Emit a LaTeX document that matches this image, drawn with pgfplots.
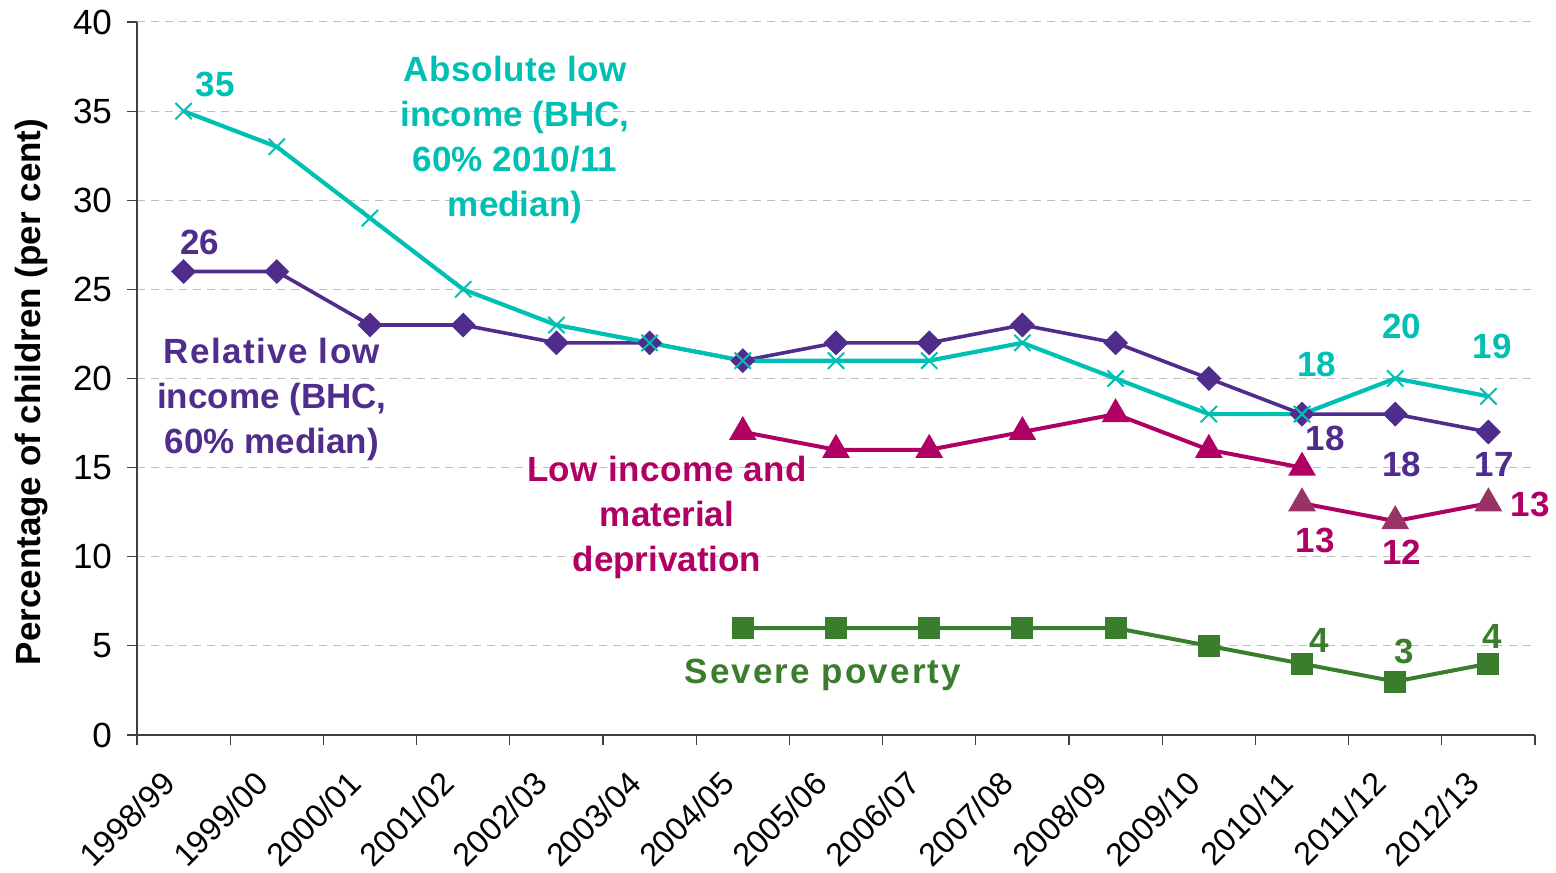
\documentclass[border=0pt]{standalone}
\usepackage{fontspec}
\setmainfont{Liberation Sans}
\usepackage{pgfplots}
\pgfplotsset{compat=1.18}

\definecolor{abscol}{RGB}{0,191,179}
\definecolor{relcol}{RGB}{80,45,140}
\definecolor{matcol}{RGB}{176,0,100}
\definecolor{matcoltwo}{RGB}{153,51,102}
\definecolor{sevcol}{RGB}{58,125,44}

\newcommand{\lab}{\fontsize{17.5bp}{22.5bp}\selectfont\bfseries}

\begin{document}
\begin{tikzpicture}
\begin{axis}[
    scale only axis,
    width=699bp, height=356.5bp,
    xmin=-0.5, xmax=14.5, ymin=0, ymax=40,
    axis x line*=bottom, axis y line*=left,
    axis line style={-, black!75, line width=0.6bp},
    xtick={-0.5,0.5,...,14.5},
    xticklabels={},
    extra x ticks={0,1,2,3,4,5,6,7,8,9,10,11,12,13,14},
    extra x tick labels={1998/99,1999/00,2000/01,2001/02,2002/03,2003/04,2004/05,2005/06,2006/07,2007/08,2008/09,2009/10,2010/11,2011/12,2012/13},
    extra x tick style={major tick length=0pt, tick style={draw=none},
        xticklabel style={font=\fontsize{16.2bp}{19bp}\selectfont, xshift=-5bp, yshift=-19bp, rotate=45, anchor=east}},
    ytick={0,5,...,40},
    tick align=outside,
    major tick length=5bp,
    tick style={black!75, line width=0.6bp},
    ymajorgrids,
    major grid style={dash pattern=on 4bp off 3bp, black!25, line width=0.5bp},
    ticklabel style={font=\fontsize{17.5bp}{20bp}\selectfont},
    yticklabel style={xshift=-4bp},
    /pgf/number format/assume math mode=true,
    ylabel={Percentage of children (per cent)},
    every axis y label/.style={at={(axis description cs:-0.0751,0.481)}, rotate=90, anchor=center, font=\lab},
    clip=false,
]
% severe poverty
\addplot[sevcol, line width=2bp, mark=square*, mark size=4.5bp, mark options={solid}]
    coordinates {(6,6)(7,6)(8,6)(9,6)(10,6)(11,5)(12,4)(13,3)(14,4)};
% low income and material deprivation (old and new series)
\addplot[matcol, line width=2bp, mark=triangle*, mark size=6bp, mark options={solid}]
    coordinates {(6,17)(7,16)(8,16)(9,17)(10,18)(11,16)(12,15)};
\addplot[matcol, line width=2bp, mark=triangle*, mark size=6bp, mark options={solid, fill=matcoltwo, draw=matcoltwo}]
    coordinates {(12,13)(13,12)(14,13)};
% relative low income
\addplot[relcol, line width=1.8bp, mark=square*, mark size=3.5bp, mark options={solid, rotate=45}]
    coordinates {(0,26)(1,26)(2,23)(3,23)(4,22)(5,22)(6,21)(7,22)(8,22)(9,23)(10,22)(11,20)(12,18)(13,18)(14,17)};
% absolute low income
\addplot[abscol, line width=2.1bp, mark=x, mark size=5.75bp, mark options={solid, line width=1bp}]
    coordinates {(0,35)(1,33)(2,29)(3,25)(4,23)(5,22)(6,21)(7,21)(8,21)(9,22)(10,20)(11,18)(12,18)(13,20)(14,19)};

% series names
\node[abscol, font=\lab, align=center] at (axis cs:3.556,33.4) {\addfontfeature{LetterSpace=1.5}Absolute low\\income (BHC,\\60\% 2010/11\\median)};
\node[relcol, font=\lab, align=center] at (axis cs:0.948,18.8) {\addfontfeature{LetterSpace=4}Relative low\\income (BHC,\\60\% median)};
\node[matcol, font=\lab, align=center] at (axis cs:5.187,12.23) {\addfontfeature{LetterSpace=1.5}Low income and\\material\\deprivation};
\node[sevcol, font=\lab] at (axis cs:6.86,3.37) {\addfontfeature{LetterSpace=6}Severe poverty};

% data labels
\node[abscol, font=\lab] at (axis cs:0.337,36.5) {35};
\node[abscol, font=\lab] at (axis cs:12.16,20.76) {18};
\node[abscol, font=\lab] at (axis cs:13.07,22.9) {20};
\node[abscol, font=\lab] at (axis cs:14.04,21.77) {19};
\node[relcol, font=\lab] at (axis cs:0.176,27.66) {26};
\node[relcol, font=\lab] at (axis cs:12.25,16.66) {18};
\node[relcol, font=\lab] at (axis cs:13.07,15.2) {18};
\node[relcol, font=\lab] at (axis cs:14.06,15.2) {17};
\node[matcol, font=\lab] at (axis cs:12.14,10.94) {13};
\node[matcol, font=\lab] at (axis cs:13.07,10.27) {12};
\node[matcol, font=\lab] at (axis cs:14.45,12.96) {13};
\node[sevcol, font=\lab] at (axis cs:12.19,5.33) {4};
\node[sevcol, font=\lab] at (axis cs:13.1,4.66) {3};
\node[sevcol, font=\lab] at (axis cs:14.04,5.55) {4};

\coordinate (sw) at (rel axis cs:0,0);
\coordinate (ne) at (rel axis cs:1,1);
\end{axis}
\pgfresetboundingbox
\path ([xshift=-68.5bp,yshift=-69bp]sw) rectangle ([xshift=10.5bp,yshift=11bp]ne);
\end{tikzpicture}
\end{document}
